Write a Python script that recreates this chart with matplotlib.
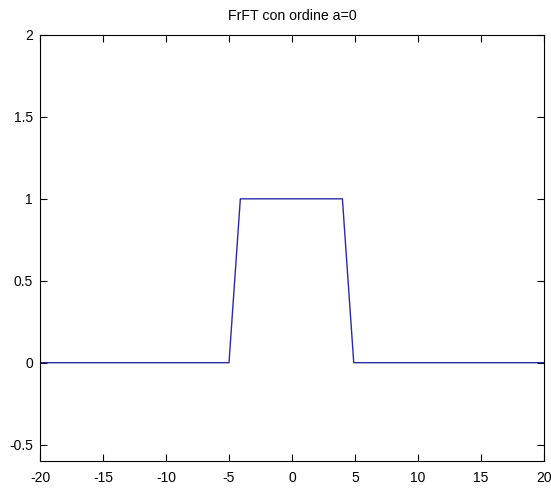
import numpy as np
import matplotlib
matplotlib.use("Agg")
import matplotlib.pyplot as plt

plt.rcParams['font.family'] = ['Liberation Sans', 'DejaVu Sans']
plt.rcParams['axes.unicode_minus'] = False

# signal (rectangular pulse, FrFT order 0)
x = [-20, -5.0, -4.1, 4.0, 4.9, 20]
y = [0, 0, 1, 1, 0, 0]

xticks = [-20, -15, -10, -5, 0, 5, 10, 15, 20]
yticks = [-0.5, 0, 0.5, 1, 1.5, 2]
yticklabels = ['-0.5', '0', '0.5', '1', '1.5', '2']

fig = plt.figure(figsize=(5.51, 4.90), dpi=100)
ax = fig.add_axes([0.0726, 0.0592, 0.9147, 0.8694])

ax.plot(x, y, color='#2a2aa8', linewidth=1.0)

ax.set_xlim(-20, 20)
ax.set_ylim(-0.6, 2)
ax.set_xticks(xticks)
ax.set_yticks(yticks)
ax.set_yticklabels(yticklabels)
ax.tick_params(direction='in', length=5, width=0.8, top=True, right=True,
               labelsize=10, pad=5)
ax.tick_params(axis='x', pad=7)
for s in ax.spines.values():
    s.set_linewidth(0.8)

ax.set_title('FrFT con ordine a=0', fontsize=10.2, pad=11)

fig.savefig('out.png', dpi=100)
